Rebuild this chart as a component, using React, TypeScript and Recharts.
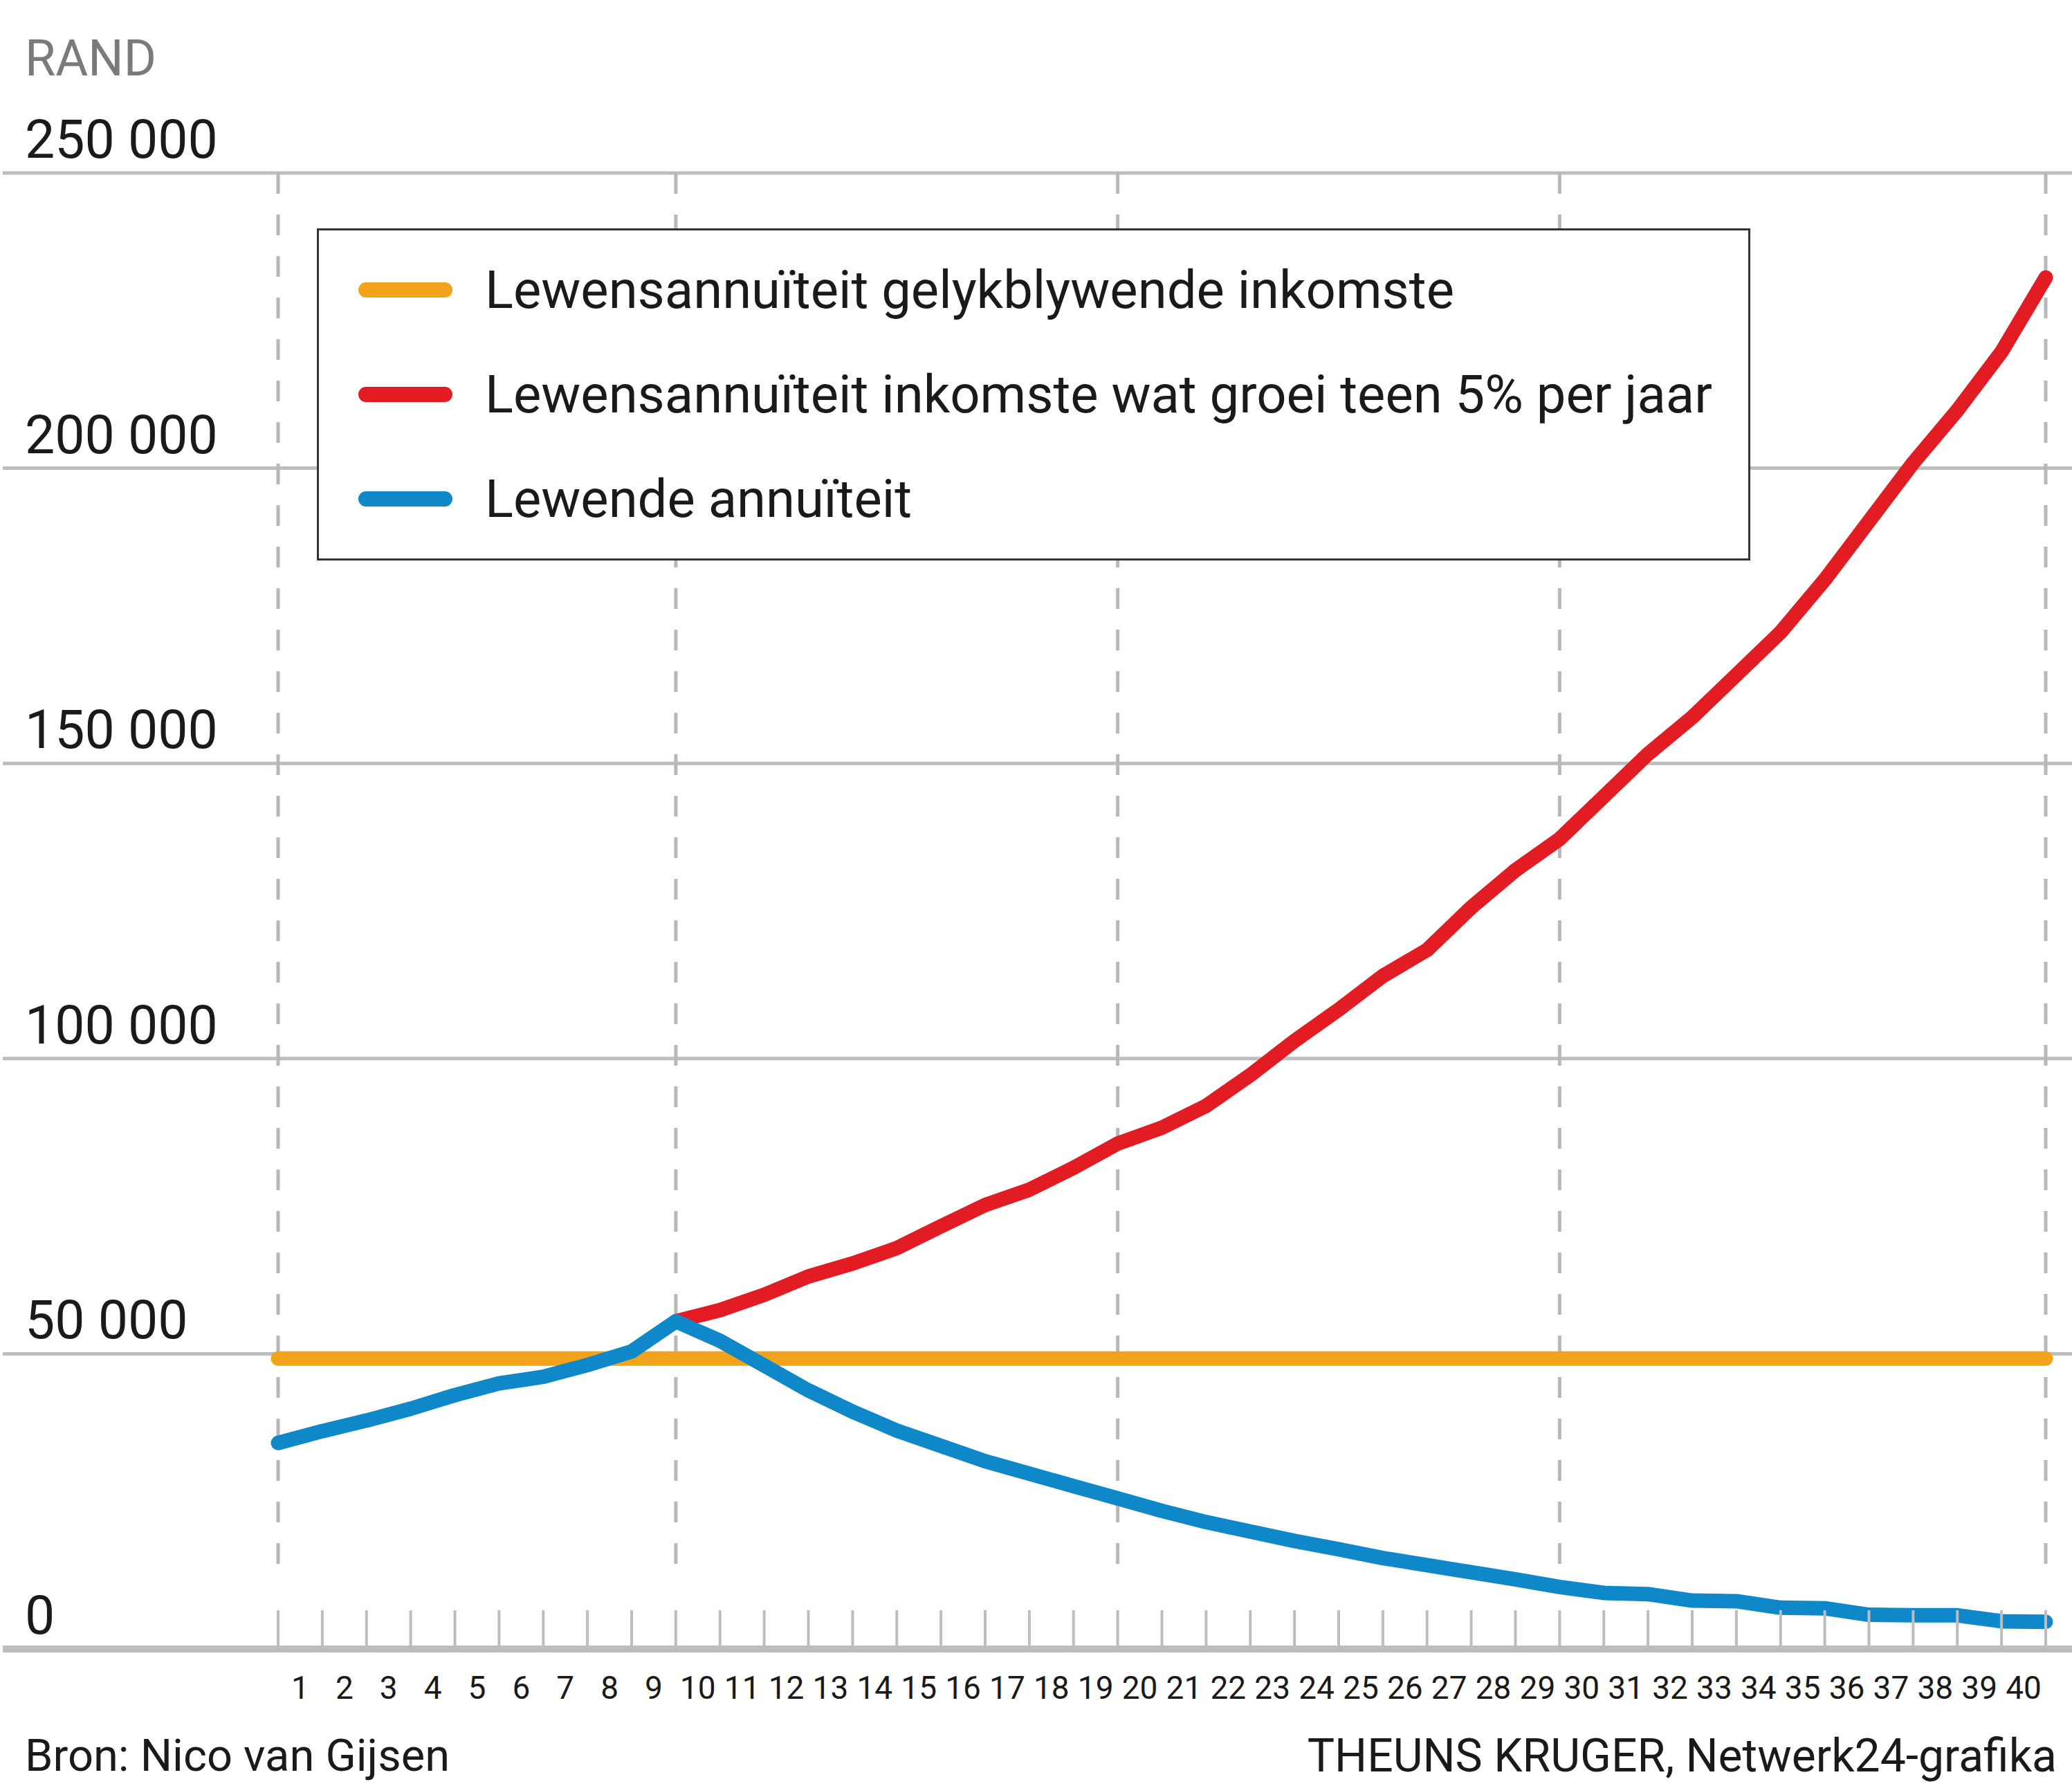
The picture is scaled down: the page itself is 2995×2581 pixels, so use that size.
import { LineChart, Line, XAxis, YAxis, CartesianGrid, Legend } from 'recharts';

// x positions are the year boundaries 0..40; labels sit between them
const years = [
  0, 1, 2, 3, 4, 5, 6, 7, 8, 9, 10, 11, 12, 13, 14, 15, 16, 17, 18, 19, 20,
  21, 22, 23, 24, 25, 26, 27, 28, 29, 30, 31, 32, 33, 34, 35, 36, 37, 38, 39, 40,
];
const yearLabels = [
  '1', '2', '3', '4', '5', '6', '7', '8', '9', '10', '11', '12', '13', '14', '15', '16', '17', '18', '19', '20',
  '21', '22', '23', '24', '25', '26', '27', '28', '29', '30', '31', '32', '33', '34', '35', '36', '37', '38', '39', '40',
];
const yTicks = [0, 50000, 100000, 150000, 200000, 250000];
const dashedYears = [0, 9, 19, 29, 40];

const fixedIncome = [
  49200, 49200, 49200, 49200, 49200, 49200, 49200, 49200, 49200, 49200,
  49200, 49200, 49200, 49200, 49200, 49200, 49200, 49200, 49200, 49200,
  49200, 49200, 49200, 49200, 49200, 49200, 49200, 49200, 49200, 49200,
  49200, 49200, 49200, 49200, 49200, 49200, 49200, 49200, 49200, 49200,
  49200,
];
const growingIncome = [
  null, null, null, null, null, null, null, null, null, 55500,
  57400, 60000, 63100, 65300, 67900, 71600, 75200, 77800, 81500, 85600,
  88300, 92000, 97200, 103000, 108300, 114000, 118400, 125600, 131900, 137200,
  144400, 151600, 157800, 165000, 172200, 181100, 191000, 200900, 209800, 219700,
  232300,
];
const livingAnnuity = [
  34900, 36900, 38700, 40700, 43000, 45000, 46100, 48100, 50400, 55500,
  52200, 48000, 43800, 40200, 37000, 34400, 31800, 29700, 27600, 25500,
  23400, 21500, 19900, 18300, 16900, 15400, 14200, 13000, 11800, 10500,
  9500, 9300, 8200, 8100, 7000, 6900, 5800, 5700, 5700, 4700,
  4600,
];

const series = [
  { key: 'fixed', name: 'Lewensannuïteit gelykblywende inkomste', color: '#f2a31b' },
  { key: 'growing', name: 'Lewensannuïteit inkomste wat groei teen 5% per jaar', color: '#e31b23' },
  { key: 'living', name: 'Lewende annuïteit', color: '#0e88c8' },
];

const data = years.map((year, i) => ({
  year,
  fixed: fixedIncome[i],
  growing: growingIncome[i],
  living: livingAnnuity[i],
}));

const labelTicks = yearLabels.map((_, i) => i + 0.5);

const W = 2995;
const H = 2581;
const PLOT_BOTTOM = 2383;
const FONT = "Roboto, 'Liberation Sans', Arial, sans-serif";
const GRID = '#bdbdbd';

const fmtRand = (v: number) => (v === 0 ? '0' : `${Math.round(v / 1000)} 000`);

function YLabel(props: any) {
  const { y, payload } = props;
  return (
    <text x={36} y={y - 22} fontSize={77} fill="#1a1a1a" fontFamily={FONT}>
      {fmtRand(payload.value)}
    </text>
  );
}

function TickMark(props: any) {
  const { x, y } = props;
  return <line x1={x} x2={x} y1={y - 56} y2={y} stroke={GRID} strokeWidth={4} />;
}

function YearLabel(props: any) {
  const { x, y, payload } = props;
  return (
    <text x={x} y={y + 71} textAnchor="middle" fontSize={46} fill="#1a1a1a" fontFamily={FONT}>
      {yearLabels[Math.round(payload.value - 0.5)]}
    </text>
  );
}

function HLine(props: any) {
  const thick = Math.abs(props.y1 - PLOT_BOTTOM) < 2;
  return (
    <line
      key={`h-${props.index}`}
      x1={4}
      x2={W}
      y1={props.y1}
      y2={props.y1}
      stroke={GRID}
      strokeWidth={thick ? 10 : 5}
    />
  );
}

function VLine(props: any) {
  return (
    <line
      key={`v-${props.index}`}
      x1={props.x1}
      x2={props.x1}
      y1={props.y1}
      y2={props.y2 - 121}
      stroke="#b8b8b8"
      strokeWidth={5}
      strokeDasharray="30 30"
    />
  );
}

function LegendBox() {
  return (
    <div
      style={{
        position: 'relative',
        width: 2072,
        height: 480,
        boxSizing: 'border-box',
        border: '3px solid #333',
        background: '#fff',
        fontFamily: FONT,
      }}
    >
      {series.map((s, i) => (
        <div
          key={s.key}
          style={{
            position: 'absolute',
            left: 57,
            top: 86 - 50 + i * 151,
            height: 100,
            display: 'flex',
            alignItems: 'center',
            whiteSpace: 'nowrap',
          }}
        >
          <div style={{ width: 136, height: 22, borderRadius: 11, background: s.color, marginRight: 47 }} />
          <span style={{ fontSize: 76, lineHeight: 1, color: '#1a1a1a' }}>{s.name}</span>
        </div>
      ))}
    </div>
  );
}

export default function App() {
  return (
    <div style={{ position: 'relative', width: W, height: H, background: '#fff', fontFamily: FONT }}>
      <style>{'body{margin:0}'}</style>
      <div style={{ position: 'absolute', left: 36, top: 49, fontSize: 72, lineHeight: 1, color: '#7a7a7a' }}>
        RAND
      </div>

      <LineChart width={W} height={H} data={data} margin={{ top: 250, left: 401, right: 38, bottom: 196 }}>
        <CartesianGrid
          horizontalValues={yTicks}
          verticalValues={dashedYears}
          horizontal={HLine}
          vertical={VLine}
        />
        <YAxis
          type="number"
          domain={[0, 250000]}
          ticks={yTicks}
          interval={0}
          width={1}
          axisLine={false}
          tickLine={false}
          tick={YLabel}
        />
        <XAxis
          dataKey="year"
          type="number"
          domain={[0, 40]}
          ticks={years}
          interval={0}
          height={1}
          axisLine={false}
          tickLine={false}
          tickSize={0}
          tickMargin={0}
          tick={TickMark}
        />
        <XAxis
          xAxisId="labels"
          dataKey="year"
          type="number"
          domain={[0, 40]}
          ticks={labelTicks}
          interval={0}
          height={1}
          axisLine={false}
          tickLine={false}
          tickSize={0}
          tickMargin={0}
          tick={YearLabel}
        />
        <Legend
          layout="horizontal"
          verticalAlign="middle"
          align="center"
          wrapperStyle={{ left: 458, top: 330, width: 2072, height: 480 }}
          content={() => <LegendBox />}
        />
        {series.map((s) => (
          <Line
            key={s.key}
            dataKey={s.key}
            name={s.name}
            type="linear"
            stroke={s.color}
            strokeWidth={21}
            strokeLinecap="round"
            strokeLinejoin="round"
            dot={false}
            activeDot={false}
            isAnimationActive={false}
          />
        ))}
      </LineChart>

      <div style={{ position: 'absolute', left: 36, top: 2505, fontSize: 65, lineHeight: 1, color: '#1a1a1a' }}>
        Bron: Nico van Gijsen
      </div>
      <div style={{ position: 'absolute', right: 22, top: 2505, fontSize: 66, lineHeight: 1, color: '#1a1a1a' }}>
        THEUNS KRUGER, Netwerk24-grafika
      </div>
    </div>
  );
}
